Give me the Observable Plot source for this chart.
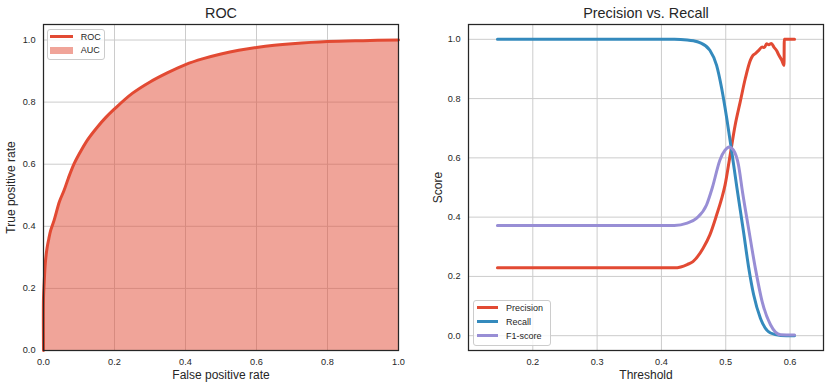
<!DOCTYPE html>
<html><head><meta charset="utf-8">
<script src="https://cdn.jsdelivr.net/npm/d3@7"></script>
<script src="https://cdn.jsdelivr.net/npm/@observablehq/plot@0.6"></script>
<style>
body{margin:0;background:#fff;font-family:"Liberation Sans",Arial,sans-serif;}
#wrap{position:relative;width:830px;height:387px;display:flex;}
.panel{position:relative;width:415px;height:387px;}
.panel svg{display:block;}
.legend{position:absolute;border:1px solid #cccccc;border-radius:3px;background:rgba(255,255,255,0.8);font-size:9px;color:#262626;box-sizing:border-box;}
.item{position:absolute;left:0;height:14px;width:100%;}
.item .sw{position:absolute;}
.item .lb{position:absolute;top:0;line-height:14px;white-space:nowrap;}
</style></head>
<body>
<div id="wrap"><div class="panel" id="left"></div><div class="panel" id="right"></div></div>
<script>
// ROC data
const rocFpr = [0, 0, 0.002, 0.005, 0.01, 0.015, 0.02, 0.03, 0.045, 0.058, 0.07, 0.086, 0.1, 0.125, 0.152, 0.175, 0.2, 0.25, 0.3, 0.35, 0.4, 0.45, 0.5, 0.55, 0.6, 0.65, 0.7, 0.8, 0.9, 1.0];
const rocTpr = [0, 0.17, 0.22, 0.28, 0.33, 0.36, 0.386, 0.42, 0.48, 0.516, 0.555, 0.601, 0.632, 0.68, 0.72, 0.75, 0.778, 0.828, 0.865, 0.895, 0.921, 0.94, 0.955, 0.967, 0.976, 0.983, 0.988, 0.995, 0.998, 1.0];

// Precision / Recall / F1 vs threshold
const precisionT = [0.145, 0.42, 0.43, 0.44, 0.449, 0.4648, 0.4753, 0.4858, 0.4937, 0.4989, 0.5068, 0.5146, 0.5225, 0.5303, 0.5382, 0.542, 0.546, 0.551, 0.5566, 0.560, 0.5635, 0.567, 0.571, 0.5748, 0.579, 0.5827, 0.587, 0.5906, 0.5910, 0.607];
const precisionV = [0.229, 0.229, 0.232, 0.24, 0.25, 0.295, 0.34, 0.407, 0.463, 0.508, 0.609, 0.71, 0.789, 0.867, 0.929, 0.945, 0.952, 0.962, 0.974, 0.972, 0.985, 0.982, 0.986, 0.974, 0.962, 0.946, 0.93, 0.912, 1.0, 1.0];
const recallT = [0.145, 0.42, 0.44, 0.45, 0.4596, 0.4753, 0.4858, 0.4937, 0.5016, 0.5094, 0.5173, 0.5277, 0.5355, 0.5434, 0.5539, 0.5696, 0.5854, 0.607];
const recallV = [1.0, 1.0, 0.998, 0.995, 0.989, 0.963, 0.912, 0.834, 0.733, 0.62, 0.50, 0.35, 0.232, 0.138, 0.059, 0.009, 0.001, 0.0];
const f1T = [0.145, 0.42, 0.44, 0.4544, 0.4701, 0.4792, 0.491, 0.4989, 0.5052, 0.512, 0.5198, 0.526, 0.5355, 0.546, 0.5566, 0.5696, 0.5854, 0.607];
const f1V = [0.372, 0.372, 0.38, 0.396, 0.441, 0.50, 0.593, 0.626, 0.637, 0.626, 0.576, 0.486, 0.362, 0.228, 0.115, 0.037, 0.003, 0.002];

// Ticks and labels
const rocXTicks = [0, 0.2, 0.4, 0.6, 0.8, 1.0];
const rocYTicks = [0, 0.2, 0.4, 0.6, 0.8, 1.0];
const prXTicks = [0.2, 0.3, 0.4, 0.5, 0.6];
const prYTicks = [0, 0.2, 0.4, 0.6, 0.8, 1.0];
const rocLegend = ["ROC", "AUC"];
const prLegend = ["Precision", "Recall", "F1-score"];

const RED = "#E24A33", BLUE = "#348ABD", PURPLE = "#988ED5";
const INK = "#262626", GRID = "#cccccc";
const FONT = '"Liberation Sans", Arial, sans-serif';
const fmt = d3.format(".1f");

const roc = rocFpr.map((x, i) => ({x, y: rocTpr[i]}));
const series = [
  ...precisionT.map((t, i) => ({t, v: precisionV[i], s: "Precision"})),
  ...recallT.map((t, i) => ({t, v: recallV[i], s: "Recall"})),
  ...f1T.map((t, i) => ({t, v: f1V[i], s: "F1-score"}))
];

const common = {width: 415, height: 387, marginTop: 24, marginBottom: 37,
  style: {fontFamily: FONT, fontSize: "9.2px", color: INK, background: "white"}};

const labels = (title, xl, yl, ydx) => [
  Plot.text([title], {text: d => d, frameAnchor: "top", lineAnchor: "middle", dy: -11.3, fontSize: 14.4, fill: INK}),
  Plot.text([xl], {text: d => d, frameAnchor: "bottom", lineAnchor: "middle", dy: 24.3, fontSize: 12, fill: INK}),
  Plot.text([yl], {text: d => d, frameAnchor: "left", textAnchor: "middle", lineAnchor: "middle", dx: ydx, rotate: -90, fontSize: 12, fill: INK})
];

const leftPlot = Plot.plot({
  ...common, marginLeft: 43, marginRight: 17,
  x: {domain: [0, 1]}, y: {domain: [0, 1.05]},
  marks: [
    Plot.gridX(rocXTicks, {stroke: GRID, strokeOpacity: 1}),
    Plot.gridY(rocYTicks, {stroke: GRID, strokeOpacity: 1}),
    Plot.areaY(roc, {x: "x", y: "y", fill: RED, fillOpacity: 0.5, curve: "catmull-rom"}),
    Plot.line(roc, {x: "x", y: "y", stroke: RED, strokeWidth: 3, curve: "catmull-rom"}),
    Plot.axisX(rocXTicks, {tickSize: 0, tickPadding: 7.5, tickFormat: fmt, label: null, fill: INK}),
    Plot.axisY(rocYTicks, {tickSize: 0, tickPadding: 8, tickFormat: fmt, label: null, fill: INK}),
    Plot.frame({stroke: INK, strokeWidth: 1.25}),
    ...labels("ROC", "False positive rate", "True positive rate", -32.5)
  ]
});

const rightPlot = Plot.plot({
  ...common, marginLeft: 53, marginRight: 7,
  x: {domain: [0.1, 0.652]}, y: {domain: [-0.05, 1.05]},
  color: {domain: prLegend, range: [RED, BLUE, PURPLE]},
  marks: [
    Plot.gridX(prXTicks, {stroke: GRID, strokeOpacity: 1}),
    Plot.gridY(prYTicks, {stroke: GRID, strokeOpacity: 1}),
    Plot.line(series, {x: "t", y: "v", z: "s", stroke: "s", strokeWidth: 3, curve: "monotone-x"}),
    Plot.axisX(prXTicks, {tickSize: 0, tickPadding: 7.5, tickFormat: fmt, label: null, fill: INK}),
    Plot.axisY(prYTicks, {tickSize: 0, tickPadding: 8, tickFormat: fmt, label: null, fill: INK}),
    Plot.frame({stroke: INK, strokeWidth: 1.25}),
    ...labels("Precision vs. Recall", "Threshold", "Score", -30.5)
  ]
});

document.getElementById("left").appendChild(leftPlot);
document.getElementById("right").appendChild(rightPlot);

function legend(parent, box, items) {
  const lg = document.createElement("div");
  lg.className = "legend";
  Object.assign(lg.style, {left: box.left + "px", top: box.top + "px", width: box.width + "px", height: box.height + "px"});
  items.forEach((it, i) => {
    const row = document.createElement("div");
    row.className = "item";
    row.style.top = (box.first + i * box.step - 7) + "px";
    const sw = document.createElement("div");
    sw.className = "sw";
    if (it.patch) {
      Object.assign(sw.style, {left: box.swX + "px", width: box.swW + "px", top: "3.5px", height: "7px", background: it.color, opacity: 0.5});
    } else {
      Object.assign(sw.style, {left: box.swX + "px", width: box.swW + "px", top: "5.5px", height: "3px", background: it.color});
    }
    const lb = document.createElement("span");
    lb.className = "lb";
    lb.style.left = box.txX + "px";
    lb.textContent = it.label;
    row.appendChild(sw); row.appendChild(lb);
    lg.appendChild(row);
  });
  parent.appendChild(lg);
}

legend(document.getElementById("left"),
  {left: 47.3, top: 29, width: 57.7, height: 31, first: 6.7, step: 13.6, swX: 1.7, swW: 22.7, txX: 32.4},
  [{label: rocLegend[0], color: RED}, {label: rocLegend[1], color: RED, patch: true}]);
legend(document.getElementById("right"),
  {left: 58.3, top: 300, width: 77.7, height: 45.5, first: 6.7, step: 14, swX: 2.4, swW: 21.6, txX: 31.7},
  prLegend.map((l, i) => ({label: l, color: [RED, BLUE, PURPLE][i]})));
</script>
</body></html>
